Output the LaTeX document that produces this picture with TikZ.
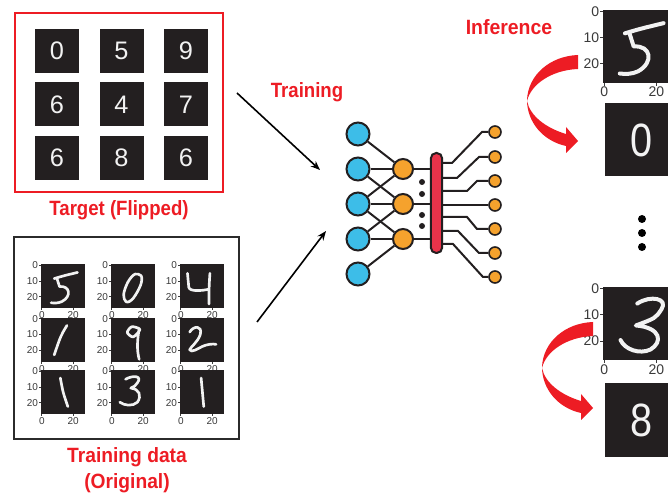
\documentclass[tikz,border=0pt]{standalone}
\usepackage{fontspec}
\setmainfont{Liberation Sans}
\usetikzlibrary{arrows.meta}
\pgfdeclarelayer{bg}
\pgfsetlayers{bg,main}
\definecolor{myred}{HTML}{ED1C24}
\definecolor{tilec}{HTML}{231F20}
\definecolor{digitc}{HTML}{F2F2F2}
\definecolor{nnblue}{HTML}{3DBDE8}
\definecolor{nnorange}{HTML}{F5A22D}
\definecolor{barred}{HTML}{E8334A}
\definecolor{nnd}{HTML}{231F20}
\definecolor{tickc}{HTML}{3A3A3A}
\definecolor{boxc}{HTML}{2B2B2B}

\tikzset{
  ttile/.style={rectangle, fill=tilec, outer sep=0pt, inner sep=0pt, minimum width=33pt, minimum height=33pt, text=digitc, font=\fontsize{19}{20}\selectfont},
  mtile/.style={rectangle, fill=tilec, outer sep=0pt, inner sep=0pt, minimum width=33pt, minimum height=33pt},
  bigtile/.style={rectangle, fill=tilec, outer sep=0pt, inner sep=0pt, minimum width=54.75pt, minimum height=54.75pt, text=digitc, font=\fontsize{35}{36}\selectfont},
  hwline/.style={draw=digitc, line cap=round, line join=round},
  tickline/.style={draw=tickc, line width=0.6pt},
  ticklab/.style={text=tickc, inner sep=0.6pt},
  redlab/.style={text=myred, inner sep=0pt, font=\fontsize{15.5}{17}\selectfont\bfseries},
  inp/.style={circle, draw=nnd, line width=1.5pt, fill=nnblue, minimum size=17.25pt, inner sep=0pt},
  hid/.style={circle, draw=nnd, line width=1.5pt, fill=nnorange, minimum size=15pt, inner sep=0pt},
  outp/.style={circle, draw=nnd, line width=1.2pt, fill=nnorange, minimum size=9pt, inner sep=0pt},
  nnline/.style={draw=nnd, line width=1.5pt},
  ndot/.style={circle, fill=nnd, minimum size=4.5pt, inner sep=0pt},
  vdot/.style={circle, fill=black, minimum size=6pt, inner sep=0pt},
  trarrow/.style={draw=black, line width=1.2pt, -{Stealth[length=7pt,width=5.5pt]}},
}

% axes for an mnist tile: #1 node, #2 tile size px, #3 font pt, #4 tick pt
\newcommand\mnistaxes[4]{%
  \pgfmathsetmacro\axs{#2*0.75/28}%
  \begin{scope}[shift={(#1.north west)}, x=\axs pt, y=-\axs pt]
    \foreach \v in {0,10,20}{
      \draw[tickline] (0,\v+0.5) -- ++(-#4pt,0);
      \node[ticklab, font=\fontsize{#3}{#3}\selectfont, anchor=east] (#1y\v) at ([xshift=-#4pt]0,\v+0.5) {\v};
    }
    \foreach \v in {0,20}{
      \draw[tickline] (\v+0.5,28) -- ++(0,-#4pt);
      \node[ticklab, font=\fontsize{#3}{#3}\selectfont, anchor=north] (#1x\v) at ([yshift=-#4pt]\v+0.5,28) {\v};
    }
  \end{scope}}

% handwritten stroke inside a tile: #1 node, #2 tile size pt, #3 line width, #4 path
\newcommand\hwdigit[4]{%
  \begin{scope}[shift={(#1.north west)}, x=#2, y=-#2]
    \path[hwline, line width=#3] #4;
  \end{scope}}

\newcommand\pfive{(0.3,0.32) .. controls (0.5,0.26) .. (0.83,0.18) (0.36,0.31) -- (0.42,0.5) .. controls (0.66,0.48) and (0.7,0.72) .. (0.48,0.84) .. controls (0.4,0.88) and (0.3,0.88) .. (0.23,0.87)}
\newcommand\pzero{plot[smooth cycle, tension=0.8] coordinates {(0.62,0.22) (0.7,0.34) (0.6,0.62) (0.42,0.84) (0.3,0.78) (0.32,0.55) (0.47,0.28)}}
\newcommand\pfour{(0.17,0.2) -- (0.2,0.52) .. controls (0.22,0.62) and (0.5,0.6) .. (0.66,0.56) (0.68,0.2) .. controls (0.66,0.5) .. (0.66,0.9)}
\newcommand\poneA{(0.59,0.17) .. controls (0.45,0.4) .. (0.3,0.84)}
\newcommand\pnine{plot[smooth cycle] coordinates {(0.64,0.24) (0.47,0.2) (0.37,0.33) (0.5,0.43) (0.64,0.3)} (0.64,0.24) .. controls (0.6,0.5) and (0.58,0.7) .. (0.64,0.94)}
\newcommand\ptwo{(0.22,0.32) .. controls (0.3,0.18) and (0.52,0.15) .. (0.46,0.38) .. controls (0.4,0.55) and (0.25,0.65) .. (0.22,0.72) .. controls (0.25,0.8) and (0.4,0.7) .. (0.5,0.65) .. controls (0.6,0.6) and (0.75,0.58) .. (0.82,0.6)}
\newcommand\poneB{(0.44,0.17) .. controls (0.5,0.5) .. (0.61,0.82)}
\newcommand\pthree{(0.33,0.2) .. controls (0.5,0.1) and (0.72,0.12) .. (0.6,0.28) .. controls (0.55,0.35) .. (0.45,0.4) .. controls (0.65,0.42) and (0.7,0.58) .. (0.6,0.72) .. controls (0.5,0.82) and (0.3,0.8) .. (0.2,0.72)}
\newcommand\poneC{(0.48,0.17) .. controls (0.5,0.5) .. (0.54,0.82)}
\newcommand\pthreeR{(0.47,0.22) .. controls (0.65,0.1) and (0.9,0.15) .. (0.8,0.3) .. controls (0.72,0.42) .. (0.45,0.52) .. controls (0.8,0.55) and (0.82,0.75) .. (0.65,0.85) .. controls (0.5,0.92) and (0.3,0.85) .. (0.24,0.72)}

\newcommand\redcurve{%
  (578,55) .. controls (550,56) and (528,75) .. (527,100)
  .. controls (527,122) and (543,141) .. (566,146) -- (566,153) -- (578,141) -- (566,127) -- (566,134)
  .. controls (546,128) and (530,116) .. (527,101)
  .. controls (531,84) and (552,70) .. (578,69) -- cycle}

\begin{document}
\begin{tikzpicture}[x=0.75pt, y=-0.75pt]
\useasboundingbox (0,0) rectangle (668,495);

% ---------- Target box ----------
\node[draw=myred, line width=1.5pt, minimum width=156pt, minimum height=134.25pt, inner sep=0pt] (tbox) at (119,102.5) {};
\foreach \d [count=\i from 0] in {0,5,9,6,4,7,6,8,6}{
  \pgfmathtruncatemacro\c{mod(\i,3)}
  \pgfmathtruncatemacro\r{div(\i,3)}
  \pgfmathsetmacro\cx{57+\c*64.5}
  \pgfmathsetmacro\cy{51+\r*53.5}
  \node[ttile] (t\i) at (\cx,\cy) {\d};
}
\node[redlab] (tlab) at (119,210) {\scalebox{0.9}[1]{Target (Flipped)}};

% ---------- Training data box ----------
\node[draw=boxc, line width=2.2pt, minimum width=168.75pt, minimum height=151.5pt, inner sep=0pt] (dbox) at (126.5,338) {};
\node[mtile] (m0) at (63,286.5) {};
\node[mtile] (m1) at (133,286.5) {};
\node[mtile] (m2) at (202,286.5) {};
\node[mtile] (m3) at (63,340) {};
\node[mtile] (m4) at (133,340) {};
\node[mtile] (m5) at (202,340) {};
\node[mtile] (m6) at (63,392.5) {};
\node[mtile] (m7) at (133,392.5) {};
\node[mtile] (m8) at (202,392.5) {};
\begin{pgfonlayer}{bg}
  \foreach \k in {0,...,8}{\mnistaxes{m\k}{44}{7.5}{1.5}}
\end{pgfonlayer}
\hwdigit{m0}{33pt}{2pt}{\pfive}
\hwdigit{m1}{33pt}{2pt}{\pzero}
\hwdigit{m2}{33pt}{2pt}{\pfour}
\hwdigit{m3}{33pt}{2pt}{\poneA}
\hwdigit{m4}{33pt}{2pt}{\pnine}
\hwdigit{m5}{33pt}{2pt}{\ptwo}
\hwdigit{m6}{33pt}{2pt}{\poneB}
\hwdigit{m7}{33pt}{2pt}{\pthree}
\hwdigit{m8}{33pt}{2pt}{\poneC}
\node[redlab] (dlab1) at (127,457) {\scalebox{0.93}[1]{Training data}};
\node[redlab] (dlab2) at (127,483) {\scalebox{0.93}[1]{(Original)}};

% ---------- Training arrows ----------
\node[redlab] (trlab) at (307,92) {\scalebox{0.9}[1]{Training}};
\coordinate (ta1s) at (237,93);
\coordinate (ta1e) at (320,170);
\coordinate (ta2s) at (257,322);
\coordinate (ta2e) at (326,231);
\draw[trarrow] (ta1s) -- (ta1e);
\draw[trarrow] (ta2s) -- (ta2e);

% ---------- Neural network ----------
\foreach \i/\y in {1/134,2/169,3/204,4/239,5/274}{\node[inp] (i\i) at (358,\y) {};}
\foreach \i/\y in {1/169,2/204,3/239}{\node[hid] (h\i) at (403,\y) {};}
\node[rectangle, rounded corners=4pt, draw=nnd, line width=1.5pt, fill=barred, minimum width=8.5pt, minimum height=75pt, inner sep=0pt] (bar) at (436.5,203) {};
\foreach \i/\y in {1/132,2/157,3/181,4/205,5/229,6/253,7/277}{\node[outp] (o\i) at (495,\y) {};}
\foreach \i/\y in {1/182,2/194,3/215,4/226}{\node[ndot] (nd\i) at (422,\y) {};}
\begin{pgfonlayer}{bg}
  \foreach \a/\b in {i1/h1,i2/h1,i2/h2,i3/h1,i3/h2,i3/h3,i4/h2,i4/h3,i5/h3}{\draw[nnline] (\a) -- (\b);}
  \foreach \h in {h1,h2,h3}{\draw[nnline] (\h) -- (\h -| bar.center);}
  \foreach \i/\b/\ea/\eb/\yo in {1/163/452/482/132,2/178/457/479/157,3/191/467/477/181,4/205/470/470/205,5/217/467/477/229,6/231/458/479/253,7/244/453/483/277}{
    \draw[nnline] ([yshift={(203-\b)*0.75pt}]bar.center) -- (\ea,\b) -- (\eb,\yo) -- (o\i);
  }
\end{pgfonlayer}

% ---------- Inference ----------
\node[redlab] (inflab) at (509,27) {\scalebox{0.94}[1]{Inference}};
\node[mtile, minimum width=54.75pt, minimum height=54.75pt] (r1) at (639.5,46.5) {};
\node[bigtile] (r2) at (641.5,140) {\scalebox{0.85}[1]{0}};
\node[mtile, minimum width=54.75pt, minimum height=54.75pt] (r3) at (639.5,324) {};
\node[bigtile] (r4) at (641.5,420) {\scalebox{0.85}[1]{8}};
\begin{pgfonlayer}{bg}
  \mnistaxes{r1}{73}{10.5}{2}
  \mnistaxes{r3}{73}{10.5}{2}
\end{pgfonlayer}
\hwdigit{r1}{54.75pt}{3pt}{\pfive}
\hwdigit{r3}{54.75pt}{3pt}{\pthreeR}
\foreach \i/\y in {1/219,2/233,3/247}{\node[vdot] (vd\i) at (642,\y) {};}
\fill[myred] \redcurve;
\begin{scope}[shift={(15,267)}]
  \fill[myred] \redcurve;
\end{scope}
\end{tikzpicture}
\end{document}
